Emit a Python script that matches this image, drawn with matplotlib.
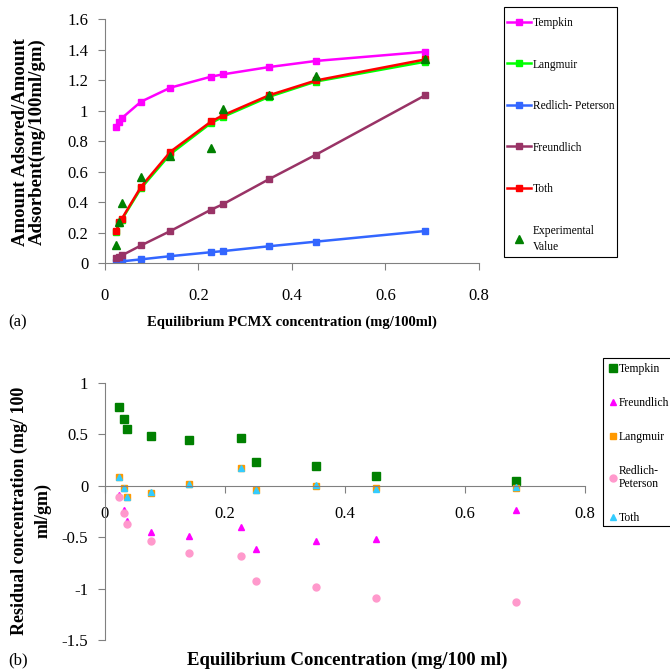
import matplotlib
matplotlib.use("Agg")
import matplotlib.pyplot as plt
from matplotlib.patches import Rectangle

# equilibrium concentration (mg/100ml), shared by both panels
conc = [0.024, 0.031, 0.036, 0.077, 0.14, 0.227, 0.252, 0.351, 0.451, 0.685]

# panel (a): amount adsorbed per amount adsorbent
tempkin = [0.89, 0.925, 0.95, 1.058, 1.15, 1.222, 1.237, 1.285, 1.325, 1.385]
langmuir = [0.205, 0.262, 0.285, 0.49, 0.715, 0.918, 0.958, 1.09, 1.19, 1.32]
redlich = [0.005, 0.008, 0.011, 0.024, 0.045, 0.071, 0.078, 0.11, 0.14, 0.21]
freundlich = [0.03, 0.04, 0.05, 0.115, 0.21, 0.35, 0.385, 0.55, 0.71, 1.10]
toth = [0.21, 0.27, 0.29, 0.50, 0.73, 0.928, 0.968, 1.10, 1.197, 1.335]
experimental = [0.118, 0.27, 0.395, 0.562, 0.70, 0.756, 1.008, 1.10, 1.226, 1.34]

# panel (b): residuals
res_tempkin = [0.765, 0.645, 0.549, 0.487, 0.445, 0.462, 0.226, 0.187, 0.09, 0.042]
res_freundlich = [-0.087, -0.235, -0.34, -0.452, -0.494, -0.40, -0.62, -0.54, -0.52, -0.24]
res_langmuir = [0.08, -0.02, -0.11, -0.07, 0.02, 0.17, -0.04, 0.0, -0.02, -0.02]
res_redlich = [-0.113, -0.27, -0.377, -0.54, -0.655, -0.684, -0.926, -0.984, -1.087, -1.13]
res_toth = [0.085, -0.02, -0.11, -0.065, 0.02, 0.17, -0.04, 0.005, -0.03, -0.01]

plt.rcParams['font.family'] = ['Liberation Serif', 'DejaVu Serif']
axis_grey = '#808080'
W, H = 670, 672

fig = plt.figure(figsize=(6.7, 6.72), dpi=100)


def fig_box(x0, y0, x1, y1):
    # pixel box (top-left origin) -> figure rectangle
    r = Rectangle((x0 / W, 1 - y1 / H), (x1 - x0) / W, (y1 - y0) / H,
                  transform=fig.transFigure, fill=False, edgecolor='black',
                  linewidth=0.8, clip_on=False)
    fig.patches.append(r)


# ---------- (a) ----------
ax1 = fig.add_axes([0.1567, 0.6086, 0.5582, 0.3631])
ax1.plot(conc, tempkin, color='#FF00FF', lw=1.8, marker='s', ms=4.5, label='Tempkin')
ax1.plot(conc, langmuir, color='#00FF00', lw=1.8, marker='s', ms=4.5, label='Langmuir')
ax1.plot(conc, redlich, color='#3366FF', lw=1.8, marker='s', ms=4.5, label='Redlich- Peterson')
ax1.plot(conc, freundlich, color='#993366', lw=1.8, marker='s', ms=4.5, label='Freundlich')
ax1.plot(conc, toth, color='#FF0000', lw=1.8, marker='s', ms=4.5, label='Toth')
ax1.plot(conc, experimental, color='#008000', lw=0, marker='^', ms=6,
         label='Experimental\nValue', zorder=5)
ax1.set_xlim(0, 0.8)
ax1.set_ylim(0, 1.6)
ax1.set_xticks([0, 0.2, 0.4, 0.6, 0.8])
ax1.set_xticklabels(['0', '0.2', '0.4', '0.6', '0.8'])
ax1.set_yticks([0, 0.2, 0.4, 0.6, 0.8, 1.0, 1.2, 1.4, 1.6])
ax1.set_yticklabels(['0', '0.2', '0.4', '0.6', '0.8', '1', '1.2', '1.4', '1.6'])
for s in ['top', 'right']:
    ax1.spines[s].set_visible(False)
for s in ['left', 'bottom']:
    ax1.spines[s].set_color(axis_grey)
ax1.tick_params(axis='x', colors=axis_grey, labelcolor='black', labelsize=12,
                length=5, pad=13)
ax1.tick_params(axis='y', colors=axis_grey, labelcolor='black', labelsize=12,
                length=5, pad=7)
ax1.set_xlabel('Equilibrium PCMX concentration (mg/100ml)', fontweight='bold',
               fontsize=10.5, labelpad=8)
fig.text(29 / W, 1 - 142 / H, 'Amount Adsored/Amount\nAdsorbent(mg/100ml/gm)',
         rotation=90, ha='center', va='center', fontweight='bold', fontsize=13.5,
         linespacing=1.0)
leg1 = ax1.legend(loc='upper left', bbox_to_anchor=(507 / W, 1 - 17 / H),
                  bbox_transform=fig.transFigure, borderaxespad=0, borderpad=0,
                  fontsize=8.3, labelspacing=2.56, handlelength=2.1,
                  handletextpad=0.15, frameon=False)
leg1.get_texts()[5].set_linespacing(1.5)
fig_box(504, 7, 617, 257)
fig.text(0.012, 0.52, '(a)', fontsize=12, va='center')

# ---------- (b) ----------
ax2 = fig.add_axes([0.1567, 0.0476, 0.7164, 0.3829])
ax2.plot(conc, res_tempkin, lw=0, marker='s', ms=5.5, color='#008000', label='Tempkin')
ax2.plot(conc, res_freundlich, lw=0, marker='^', ms=5, color='#FF00FF', label='Freundlich')
ax2.plot(conc, res_langmuir, lw=0, marker='s', ms=5, color='#FF9900', label='Langmuir')
ax2.plot(conc, res_redlich, lw=0, marker='o', ms=5, color='#FF99CC', label='Redlich-\nPeterson')
ax2.plot(conc, res_toth, lw=0, marker='^', ms=5, color='#33CCFF', label='Toth')
ax2.set_xlim(0, 0.8)
ax2.set_ylim(-1.5, 1)
ax2.set_xticks([0, 0.2, 0.4, 0.6, 0.8])
ax2.set_xticklabels(['0', '0.2', '0.4', '0.6', '0.8'])
ax2.set_yticks([-1.5, -1, -0.5, 0, 0.5, 1])
ax2.set_yticklabels(['-1.5', '-1', '-0.5', '0', '0.5', '1'])
for s in ['top', 'right']:
    ax2.spines[s].set_visible(False)
ax2.spines['bottom'].set_position(('data', 0))
for s in ['left', 'bottom']:
    ax2.spines[s].set_color(axis_grey)
ax2.tick_params(axis='x', colors=axis_grey, labelcolor='black', labelsize=12,
                length=5, pad=10)
ax2.tick_params(axis='y', colors=axis_grey, labelcolor='black', labelsize=12,
                length=5, pad=7)
fig.text(347 / W, 1 - 660 / H, 'Equilibrium Concentration (mg/100 ml)',
         fontweight='bold', fontsize=13.5, ha='center', va='center')
fig.text(31 / W, 1 - 511 / H, 'Residual concentration (mg/ 100\nml/gm)',
         rotation=90, ha='center', va='center', fontweight='bold', fontsize=13,
         linespacing=1.45)
leg2 = ax2.legend(loc='upper left', bbox_to_anchor=(608 / W, 1 - 363 / H),
                  bbox_transform=fig.transFigure, borderaxespad=0, borderpad=0,
                  fontsize=8.4, labelspacing=1.9, handlelength=0.8,
                  handletextpad=0.15, frameon=False)
leg2.get_texts()[3].set_linespacing(1.05)
fig_box(603, 358, 680, 526)
fig.text(0.012, 0.018, '(b)', fontsize=12, va='center')

fig.savefig('out.png', dpi=100)
